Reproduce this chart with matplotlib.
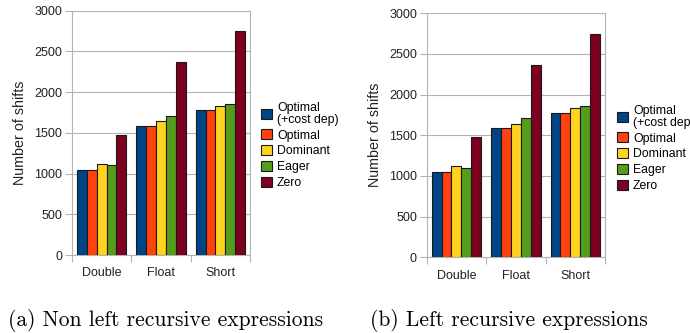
import matplotlib
matplotlib.use("Agg")
import matplotlib.pyplot as plt
import numpy as np
from matplotlib.patches import Patch

categories = ["Double", "Float", "Short"]
series_names = ["Optimal\n(+cost dep)", "Optimal", "Dominant", "Eager", "Zero"]
opt_cost = [1045, 1590, 1780]
optimal = [1045, 1585, 1775]
dominant = [1120, 1645, 1835]
eager = [1100, 1710, 1860]
zero = [1475, 2370, 2745]
series = [opt_cost, optimal, dominant, eager, zero]
colors = ["#004586", "#ff420e", "#ffd320", "#579d1c", "#7e0021"]
yticks = [0, 500, 1000, 1500, 2000, 2500, 3000]
captions = ["(a) Non left recursive expressions", "(b) Left recursive expressions"]

plt.rcParams['font.family'] = ['Liberation Sans', 'DejaVu Sans']

W, H = 690, 333
fig = plt.figure(figsize=(W / 100, H / 100), dpi=100)

def px_axes(x0, x1, ytop, ybot):
    return fig.add_axes([x0 / W, (H - ybot) / H, (x1 - x0) / W, (ybot - ytop) / H])

panels = [
    dict(ax=(72, 250, 10.7, 255), leg=(261, 112), cap=(8, 320)),
    dict(ax=(426.7, 605, 13.3, 257.3), leg=(617, 115), cap=(370, 320)),
]

grid_c = "#b3b3b3"
bw = 0.166
x = np.arange(len(categories))
for p, cap in zip(panels, captions):
    ax = px_axes(*p["ax"])
    for i, (vals, c) in enumerate(zip(series, colors)):
        ax.bar(x + (i - 2) * bw, vals, width=bw, color=c, edgecolor="#1a1a1a",
               linewidth=0.8, zorder=3)
    ax.set_xlim(-0.5, 2.5)
    ax.set_ylim(0, 3000)
    ax.set_yticks(yticks)
    ax.set_yticklabels([str(v) for v in yticks], fontsize=9, color="#222222")
    ax.set_xticks(x)
    ax.set_xticklabels(categories, fontsize=9, color="#222222")
    ax.set_xticks([-0.5, 0.5, 1.5, 2.5], minor=True)
    ax.tick_params(axis="x", which="major", length=0, pad=9)
    ax.tick_params(axis="x", which="minor", length=5, color=grid_c, width=0.8)
    ax.tick_params(axis="y", length=5, color=grid_c, width=0.8, pad=2)
    ax.yaxis.grid(True, color=grid_c, linewidth=0.8, zorder=0)
    for s in ["left", "right", "top", "bottom"]:
        ax.spines[s].set_color(grid_c)
        ax.spines[s].set_linewidth(0.8)
    ax.spines["top"].set_visible(False)
    ax.set_ylabel("Number of shifts", fontsize=10.3, color="#222222", labelpad=5)
    handles = [Patch(facecolor=c, edgecolor="#1a1a1a", linewidth=0.8) for c in colors]
    lx, ly = p["leg"]
    leg = fig.legend(handles, series_names, loc="upper left",
                     bbox_to_anchor=(lx / W, (H - ly + 10) / H), frameon=False,
                     fontsize=8.8, handlelength=0.9, handleheight=0.9,
                     handletextpad=0.4, labelspacing=0.3, borderaxespad=0,
                     borderpad=0)
    for t in leg.get_texts():
        t.set_linespacing(0.95)
    cx, cy = p["cap"]
    fig.text(cx / W, (H - cy) / H, cap, family="cmr10", fontsize=15.5,
             ha="left", va="center")

fig.savefig("out.png", dpi=100)
